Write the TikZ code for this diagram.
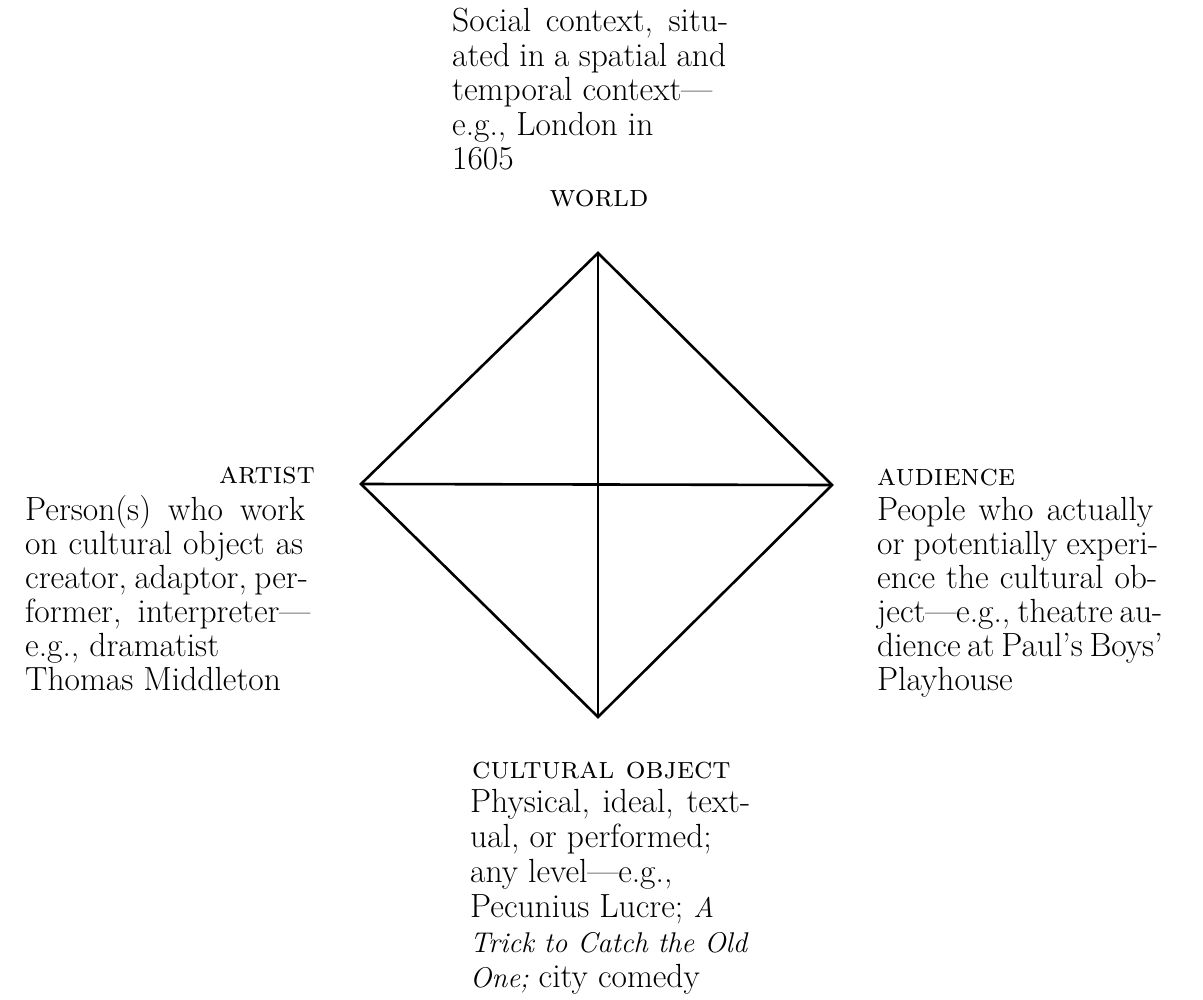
\documentclass[tikz,border=0pt]{standalone}
\newcommand{\itsm}[1]{{\fontsize{28.5}{34}\selectfont\itshape #1}}
\begin{document}
\begin{tikzpicture}[x=1pt,y=-1pt,
  txt/.style={anchor=base west, inner sep=0pt, font=\fontsize{33.5}{34}\selectfont},
  lab/.style={inner sep=0pt, font=\fontsize{31}{34}\selectfont\scshape},
  edge/.style={line width=2.6pt, line join=miter}]
\useasboundingbox (0,0) rectangle (1203,1000);
% vertices
\coordinate (W) at (598,253);
\coordinate (A) at (361,484);
\coordinate (U) at (832,485);
\coordinate (O) at (598,717);
\draw[edge] (W) -- (U) -- (O) -- (A) -- cycle;
\draw[edge] (W) -- (O);
\draw[edge] (A) -- (U);
% WORLD
\node[txt] (w1) at (452,32) {\makebox[276pt][s]{Social context, situ-}};
\node[txt] (w2) at (452,66.5) {\makebox[274pt][s]{ated in a spatial and}};
\node[txt] (w3) at (452,101) {temporal context\textemdash};
\node[txt] (w4) at (452,136) {e.g., London in};
\node[txt] (w5) at (452,170) {1605};
\node[lab, anchor=base] (wl) at (599,207) {world};
% ARTIST
\node[lab, anchor=base east] (al) at (315,483) {artist};
\node[txt] (a1) at (25,520) {\makebox[280pt][s]{Person(s) who work}};
\node[txt] (a2) at (25,554) {\makebox[278pt][s]{on cultural object as}};
\node[txt] (a3) at (25,588) {\makebox[280pt][s]{creator, adaptor, per-}};
\node[txt] (a4) at (25,622) {\makebox[285pt][s]{former, interpreter\textemdash}};
\node[txt] (a5) at (25,656) {e.g., dramatist};
\node[txt] (a6) at (25,690) {Thomas Middleton};
% AUDIENCE
\node[lab, anchor=base west] (ul) at (877,485) {audience};
\node[txt] (u1) at (877,520) {\makebox[276pt][s]{People who actually}};
\node[txt] (u2) at (877,554) {\makebox[281pt][s]{or potentially experi-}};
\node[txt] (u3) at (877,588) {\makebox[280pt][s]{ence the cultural ob-}};
\node[txt] (u4) at (877,622) {\makebox[281pt][s]{ject\textemdash e.g., theatre au-}};
\node[txt] (u5) at (877,656) {\makebox[282pt][s]{dience at Paul\textquoteright s Boys\textquoteright}};
\node[txt] (u6) at (877,690) {Playhouse};
% CULTURAL OBJECT
\node[lab, anchor=base west] (ol) at (472,778) {cultural object};
\node[txt] (o1) at (470,812) {\makebox[280pt][s]{Physical, ideal, text-}};
\node[txt] (o2) at (470,847) {ual, or performed;};
\node[txt] (o3) at (470,882) {any level\textemdash e.g.,};
\node[txt] (o4) at (470,917) {Pecunius Lucre; \itsm{A}};
\node[txt] (o5) at (470,952) {\itsm{Trick to Catch the Old}};
\node[txt] (o6) at (470,987) {\itsm{One;} city comedy};
\end{tikzpicture}
\end{document}
